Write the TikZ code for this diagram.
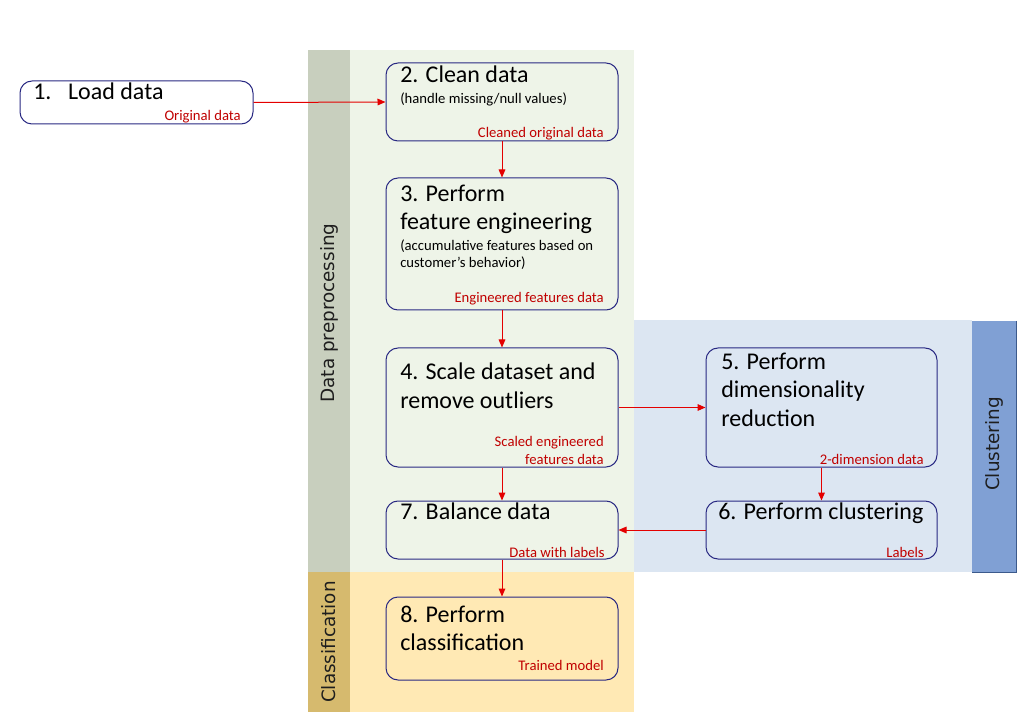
\documentclass[tikz,border=0pt]{standalone}
\usepackage{fontspec}
\setmainfont{Carlito}
\newfontfamily\bandfont{DejaVu Sans}
\usetikzlibrary{arrows.meta}

\definecolor{bandgray}{RGB}{200,207,190}
\definecolor{greenbg}{RGB}{238,244,232}
\definecolor{bluebg}{RGB}{220,230,242}
\definecolor{clusterband}{RGB}{128,160,212}
\definecolor{clusterline}{RGB}{60,90,140}
\definecolor{classband}{RGB}{214,186,110}
\definecolor{yellowbg}{RGB}{255,233,180}
\definecolor{boxline}{RGB}{40,40,130}
\definecolor{outred}{RGB}{192,0,0}
\definecolor{flowred}{RGB}{228,0,0}
\definecolor{bandtext}{RGB}{30,30,30}

\tikzset{
	stepbox/.style={draw=boxline, line width=0.75pt, rounded corners=9pt, minimum width=174pt, inner sep=0pt},
	steptitle/.style={anchor=base west, align=left, inner sep=0pt, font=\fontsize{18}{21.2}\selectfont},
	stepnote/.style={anchor=base west, align=left, inner sep=0pt, font=\fontsize{11}{13}\selectfont},
	outlabel/.style={anchor=base east, align=right, inner sep=0pt, text=outred, font=\fontsize{11}{13}\selectfont},
	bandlabel/.style={rotate=90, text=bandtext, font=\bandfont\fontsize{13.8}{16}\selectfont},
	flow/.style={->, draw=flowred, line width=0.75pt}
}

\begin{document}
\begin{tikzpicture}[x=0.75pt, y=-0.75pt, >={Triangle[length=6pt,width=5pt]}]
		\useasboundingbox (0,0) rectangle (1031,723);
		
		\fill[bandgray] (308,50) rectangle (350,572);
		\fill[greenbg] (350,50) rectangle (634,572);
		\fill[bluebg] (634,320) rectangle (972,572);
		\fill[clusterband] (972,321) rectangle (1016,572);
		\draw[clusterline] (1016,321)--(1016,572)--(972,572);
		\fill[classband] (308,572) rectangle (350,712);
		\fill[yellowbg] (350,572) rectangle (634,712);
		
		\node[bandlabel] (lpre) at (329,313) {Data preprocessing};
		\node[bandlabel] (lclu) at (994,444) {Clustering};
		\node[bandlabel] (lcla) at (329,642) {Classification};
		
		\node[stepbox, fill=white, minimum width=174.75pt, minimum height=32.25pt] (b1) at (136.5,102.5) {};
		\node[stepbox, minimum height=58.5pt] (b2) at (502,102) {};
		\node[stepbox, minimum height=99pt] (b3) at (502,244) {};
		\node[stepbox, minimum height=89.25pt] (b4) at (502,407.5) {};
		\node[stepbox, minimum width=173.25pt, minimum height=89.25pt] (b5) at (821.5,407.5) {};
		\node[stepbox, minimum width=173.25pt, minimum height=43.5pt] (b6) at (821.5,530) {};
		\node[stepbox, minimum height=43.5pt] (b7) at (502,530) {};
		\node[stepbox, minimum height=62.25pt] (b8) at (502,638.5) {};
		
		% multi-line nodes sit on the baseline of their last line
		\node[steptitle] (t1) at (33,100) {1.\hspace{12.5pt}Load data};
		\node[outlabel] (o1) at (241,121) {Original data};
		
		\node[steptitle] (t2) at (400,82.7) {2. Clean data};
		\node[stepnote] (s2) at (400,104) {(handle missing/null values)};
		\node[outlabel] (o2) at (604,138) {Cleaned original data};
		
		\node[steptitle] (t3) at (400,230) {3. Perform\\feature engineering};
		\node[stepnote] (s3) at (400,268) {(accumulative features based on\\customer’s behavior)};
		\node[outlabel] (o3) at (604,303) {Engineered features data};
		
		\node[steptitle] (t4) at (400,408) {4. Scale dataset and\\remove outliers};
		\node[outlabel] (o4) at (604,464) {Scaled engineered\\features data};
		
		\node[steptitle] (t5) at (721,426) {5. Perform\\dimensionality\\reduction};
		\node[outlabel] (o5) at (924,464) {2-dimension data};
		
		\node[steptitle] (t6) at (718,519) {6. Perform clustering};
		\node[outlabel] (o6) at (924,557) {Labels};
		
		\node[steptitle] (t7) at (400,519) {7. Balance data};
		\node[outlabel] (o7) at (605,557) {Data with labels};
		
		\node[steptitle] (t8) at (400,650.7) {8. Perform\\classification};
		\node[outlabel] (o8) at (604,670.7) {Trained model};
		
		\draw[flow] (b1.east)--(b2.west);
		\draw[flow] (b2.south)--(b3.north);
		\draw[flow] (b3.south)--(b4.north);
		\draw[flow] (b4.east)--(b5.west);
		\draw[flow] (b4.south)--(b7.north);
		\draw[flow] (b5.south)--(b6.north);
		\draw[flow] (b6.west)--(b7.east);
		\draw[flow] (b7.south)--(b8.north);
		
\end{tikzpicture}
\end{document}
